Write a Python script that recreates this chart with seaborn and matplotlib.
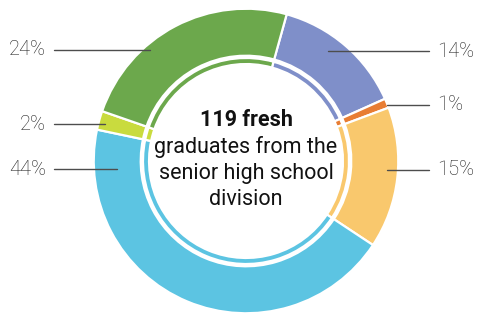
import matplotlib
matplotlib.use("Agg")
import matplotlib.pyplot as plt
import seaborn as sns

# Datos del gráfico (porcentajes en sentido horario desde arriba)
shares = [14, 1, 15, 44, 2, 24]
share_labels = ["14%", "1%", "15%", "44%", "2%", "24%"]
colors = ["#7f8fc9", "#e87d33", "#f9c86d", "#5cc4e2", "#c9db3e", "#6ca84c"]
center_lines = ["119 fresh", "graduates from the", "senior high school", "division"]

sns.set_theme(style="white")
plt.rcParams["font.family"] = ["Roboto", "DejaVu Sans"]

fig = plt.figure(figsize=(4.79, 3.13), dpi=100)
ax = fig.add_axes([0, 0, 1, 1])

start = 74.5
# anillo exterior
ax.pie(shares, colors=colors, startangle=start, counterclock=False, radius=1.005,
       wedgeprops=dict(width=0.31, edgecolor="white", linewidth=1.6))
# anillo interior fino
ax.pie(shares, colors=colors, startangle=start, counterclock=False, radius=0.68,
       wedgeprops=dict(width=0.04, edgecolor="white", linewidth=1.6))

# lineas guia: (y, extremo interior, lado)
guias = [
    (0.726, 0.541, "right"),
    (0.370, 0.931, "right"),
    (-0.059, 0.931, "right"),
    (-0.053, -0.851, "left"),
    (0.244, -0.931, "left"),
    (0.733, -0.634, "left"),
]
for (y, x_in, lado), lab in zip(guias, share_labels):
    if lado == "right":
        ax.plot([x_in, 1.208], [y, y], color="#4d4d4d", lw=1)
        ax.text(1.262, y, lab, ha="left", va="center", fontsize=14.5,
                fontweight="light", color="#1f1f1f")
    else:
        ax.plot([-1.267, x_in], [y, y], color="#4d4d4d", lw=1)
        ax.text(-1.322, y, lab, ha="right", va="center", fontsize=14.5,
                fontweight="light", color="#1f1f1f")

# texto central
for i, line in enumerate(center_lines):
    ax.text(0, 0.27 - i * 0.175, line, ha="center", va="center", fontsize=15.5,
            fontweight="bold" if i == 0 else "normal", color="#111111")

ax.set_xlim(-246 / 151.5, (479 - 246) / 151.5)
ax.set_ylim(-152 / 151.5, (313 - 152) / 151.5)
ax.axis("off")

fig.savefig("out.png", dpi=100)
